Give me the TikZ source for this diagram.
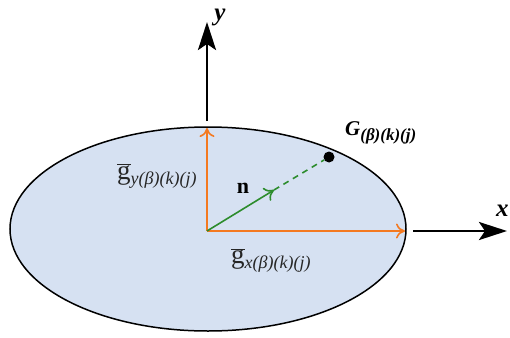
\documentclass[tikz,border=0pt]{standalone}
\usepackage{fontspec}
\setmainfont{Liberation Serif}
\usetikzlibrary{arrows.meta,shapes.geometric}
\definecolor{ellfill}{RGB}{214,225,242}
\definecolor{orangeax}{RGB}{244,121,32}
\definecolor{greenn}{RGB}{45,140,45}
\tikzset{
  axis/.style={line width=2.8pt,-{Stealth[length=28pt,width=18pt,inset=6pt]}},
  comp/.style={orangeax,line width=1.6pt,-{To[length=9pt,width=15pt,line width=1.6pt]}},
  normal/.style={greenn,line width=1.6pt,-{To[length=9pt,width=15pt,line width=1.6pt]}},
  lab/.style={inner sep=0pt,font=\itshape}
}
\begin{document}
\begin{tikzpicture}[x=1pt,y=-1pt]
\useasboundingbox (0,0) rectangle (510,337);
\node[ellipse,draw,fill=ellfill,line width=1.5pt,minimum width=396pt,minimum height=204pt,inner sep=0pt] (E) at (208,229) {};
\coordinate (O) at (207,231);
\coordinate (XE) at (405,231);
\coordinate (YE) at (207,128);
\coordinate (NE) at (274,190);
\node[circle,fill=black,inner sep=0pt,minimum size=11pt] (G) at (329,157) {};
\draw[comp] (O) -- (XE);
\draw[comp] (O) -- (YE);
\draw[greenn,line width=1.6pt,dash pattern=on 6pt off 5pt] (NE) -- (G);
\draw[normal] (O) -- (NE);
\coordinate (YA) at (207,121);
\coordinate (YT) at (207,22);
\coordinate (XA) at (413,231);
\coordinate (XT) at (507,231);
\draw[axis] (YA) -- (YT);
\draw[axis] (XA) -- (XT);
\node[lab,font=\bfseries\itshape\fontsize{25}{25}\selectfont] (ylab) at (220,17) {y};
\node[lab,font=\bfseries\itshape\fontsize{25}{25}\selectfont,anchor=west] (xlab) at (496,211) {x};
\node[lab,font=\bfseries\fontsize{22}{22}\selectfont] (nlab) at (243,188) {n};
\node[lab,font=\bfseries\itshape\fontsize{21}{21}\selectfont,anchor=west] (glab) at (345,133) {G\textsubscript{\fontsize{17}{17}\selectfont(β)(k)(j)}};
\node[lab,font=\fontsize{27}{27}\selectfont,anchor=west,text=black!85] (gy) at (117,176) {$\overline{\hbox{g}}$\textsubscript{\fontsize{18}{18}\selectfont\itshape y(β)(k)(j)}};
\node[lab,font=\fontsize{27}{27}\selectfont,anchor=west,text=black!85] (gx) at (231,260) {$\overline{\hbox{g}}$\textsubscript{\fontsize{18}{18}\selectfont\itshape x(β)(k)(j)}};
\end{tikzpicture}
\end{document}
